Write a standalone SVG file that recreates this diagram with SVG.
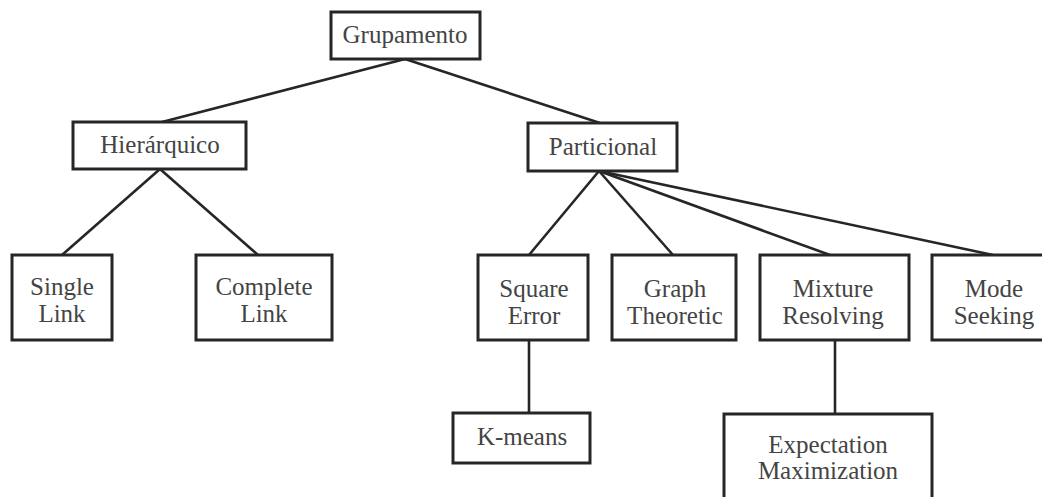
<svg xmlns="http://www.w3.org/2000/svg" width="1042" height="497" viewBox="0 0 1042 497">
<style>
.box{fill:#fff;stroke:#262626;stroke-width:3}
.lbl{font-family:"Liberation Serif","Times New Roman",serif;font-size:25px;fill:#444;text-anchor:middle}
.edge{stroke:#262626;stroke-width:2.6;fill:none}
</style>
<rect width="1042" height="497" fill="#fff"/>
<g id="connectors">
<line class="edge" x1="405" y1="59" x2="162" y2="122"/>
<line class="edge" x1="405" y1="59" x2="600" y2="123"/>
<line class="edge" x1="160" y1="169" x2="62" y2="255"/>
<line class="edge" x1="160" y1="169" x2="258" y2="255"/>
<line class="edge" x1="599" y1="171" x2="529" y2="255"/>
<line class="edge" x1="599" y1="171" x2="673" y2="255"/>
<line class="edge" x1="599" y1="171" x2="830" y2="255"/>
<line class="edge" x1="599" y1="171" x2="993" y2="255"/>
<line class="edge" x1="529" y1="340" x2="529" y2="413"/>
<line class="edge" x1="835" y1="340" x2="835" y2="414"/>
</g>
<g id="grupamento"><rect class="box" x="331" y="12" width="149" height="47"/><text class="lbl" x="405" y="43">Grupamento</text></g>
<g id="hierarquico"><rect class="box" x="73" y="122" width="173" height="47"/><text class="lbl" x="160" y="153">Hierárquico</text></g>
<g id="particional"><rect class="box" x="528" y="123" width="149" height="48"/><text class="lbl" x="603" y="155">Particional</text></g>
<g id="single-link"><rect class="box" x="12" y="255" width="100" height="85"/><text class="lbl" x="62" y="295">Single</text><text class="lbl" x="62" y="322">Link</text></g>
<g id="complete-link"><rect class="box" x="196" y="255" width="136" height="85"/><text class="lbl" x="264" y="295">Complete</text><text class="lbl" x="264" y="322">Link</text></g>
<g id="square-error"><rect class="box" x="478" y="255" width="110" height="85"/><text class="lbl" x="534" y="297">Square</text><text class="lbl" x="534" y="324">Error</text></g>
<g id="graph-theoretic"><rect class="box" x="612" y="255" width="124" height="85"/><text class="lbl" x="675" y="297">Graph</text><text class="lbl" x="675" y="324">Theoretic</text></g>
<g id="mixture-resolving"><rect class="box" x="760" y="255" width="149" height="85"/><text class="lbl" x="833" y="297">Mixture</text><text class="lbl" x="833" y="324">Resolving</text></g>
<g id="mode-seeking"><rect class="box" x="932" y="255" width="124" height="85"/><text class="lbl" x="994" y="297">Mode</text><text class="lbl" x="994" y="324">Seeking</text></g>
<g id="k-means"><rect class="box" x="453" y="413" width="137" height="50"/><text class="lbl" x="522" y="445">K-means</text></g>
<g id="expectation-maximization"><rect class="box" x="724" y="414" width="208" height="100"/><text class="lbl" x="828" y="453">Expectation</text><text class="lbl" x="828" y="479">Maximization</text></g>
</svg>
